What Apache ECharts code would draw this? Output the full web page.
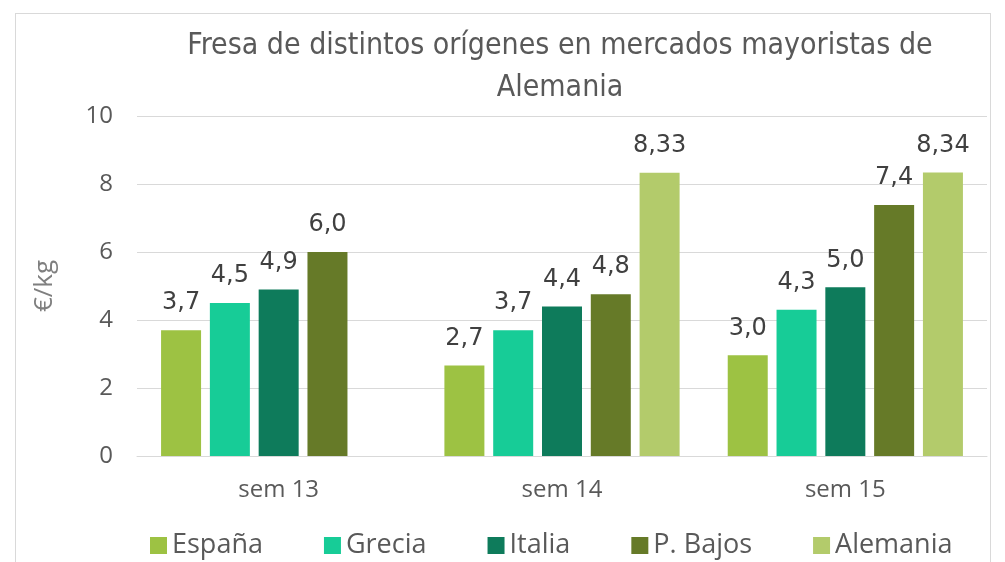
<!DOCTYPE html>
<html>
<head>
<meta charset="utf-8">
<script src="https://cdn.jsdelivr.net/npm/echarts@6/dist/echarts.min.js"></script>
<style>
  html, body { margin: 0; padding: 0; background: #fff; }
  #frame { position: absolute; left: 15px; top: 13px; width: 974px; height: 560px; border: 1px solid #d9d9d9; border-bottom: none; }
  #chart { position: absolute; left: 0; top: 0; width: 1005px; height: 562px; }
</style>
</head>
<body>
<div id="frame"></div>
<div id="chart"></div>
<script>
const categories = ['sem 13', 'sem 14', 'sem 15'];
const seriesNames = ['España', 'Grecia', 'Italia', 'P. Bajos', 'Alemania'];
const espana = [3.7, 2.66, 2.96];
const grecia = [4.5, 3.7, 4.3];
const italia = [4.9, 4.4, 4.96];
const pbajos = [6.0, 4.76, 7.38];
const alemania = [null, 8.33, 8.34];
const yTicks = [0, 2, 4, 6, 8, 10];
const colors = ['#9dc243', '#17cc97', '#0e7b5b', '#667a28', '#b3cb6b'];
const decimals = [1, 1, 1, 1, 2];

const titleFont = "'Liberation Sans Narrow', 'DejaVu Sans Condensed', 'Liberation Sans', sans-serif";
const font = "'Open Sans', sans-serif";
const labelFont = "'DejaVu Sans', sans-serif";

const chart = echarts.init(document.getElementById('chart'));
const allData = [espana, grecia, italia, pbajos, alemania];

const option = {
  animation: false,
  color: colors,
  title: {
    text: 'Fresa de distintos orígenes en mercados mayoristas de\nAlemania',
    left: 555,
    textAlign: 'center',
    top: 20,
    textStyle: { fontFamily: titleFont, fontWeight: 'normal', fontSize: 30, color: '#595959', lineHeight: 42 }
  },
  legend: {
    data: seriesNames,
    left: 145,
    top: 527,
    itemWidth: 17,
    itemHeight: 17,
    itemGap: 61,
    icon: 'rect',
    textStyle: { fontFamily: font, fontSize: 27, color: '#595959' }
  },
  grid: { left: 137, right: 18, top: 116, bottom: 106, containLabel: false },
  xAxis: {
    type: 'category',
    data: categories,
    axisTick: { show: false },
    axisLine: { lineStyle: { color: '#d9d9d9' } },
    axisLabel: { fontFamily: font, fontSize: 24, color: '#595959', margin: 22 }
  },
  yAxis: {
    type: 'value',
    min: yTicks[0],
    max: yTicks[yTicks.length - 1],
    interval: 2,
    name: '€/kg',
    nameLocation: 'middle',
    nameGap: 79,
    nameTextStyle: { fontFamily: font, fontSize: 26, color: '#7f7f7f' },
    axisLabel: { fontFamily: font, fontSize: 24, color: '#595959', margin: 24 },
    splitLine: { lineStyle: { color: '#d9d9d9' } }
  },
  series: seriesNames.map((name, i) => ({
    name: name,
    type: 'bar',
    data: allData[i],
    barWidth: 40,
    barGap: '22%',
    label: {
      show: true,
      position: 'top',
      distance: 15,
      fontFamily: labelFont,
      fontSize: 24,
      color: '#404040',
      formatter: p => p.value == null ? '' : p.value.toFixed(decimals[i]).replace('.', ',')
    }
  }))
};

chart.setOption(option);
</script>
</body>
</html>
